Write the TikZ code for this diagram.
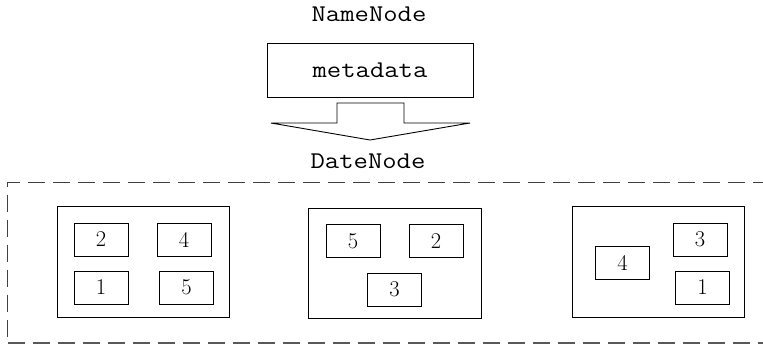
\documentclass[tikz,border=0pt]{standalone}
\usepackage{graphicx}
\begin{document}
\begin{tikzpicture}[x=1pt,y=-1pt,
  monotext/.style={inner sep=0pt, font=\ttfamily\fontsize{24}{28}\selectfont},
  bigbox/.style={draw, line width=0.9pt, inner sep=0pt},
  blockbox/.style={draw, line width=0.9pt, inner sep=0pt, minimum width=54pt, minimum height=33pt, font=\fontsize{22.5}{26}\selectfont},
  dashline/.style={draw=black!75, line width=1.3pt, dash pattern=on 17pt off 8pt}
]
\useasboundingbox (0,0) rectangle (763,354);
% NameNode
\node[monotext] (nn) at (369,14) {\scalebox{1.16}[1]{NameNode}};
\node[bigbox, minimum width=206pt, minimum height=54pt] (meta) at (370,70) {};
\node[monotext] (metatext) at (meta.center) {\scalebox{1.16}[1]{metadata}};
\node[monotext] (dn) at (368,161) {\scalebox{1.16}[1]{DateNode}};
% arrow
\coordinate (a1) at (337,103);
\coordinate (a2) at (404,103);
\coordinate (a3) at (404,123);
\coordinate (a4) at (470,123);
\coordinate (a5) at (370,140);
\coordinate (a6) at (271,123);
\coordinate (a7) at (337,123);
\draw[line width=0.9pt, line join=miter] (a1) -- (a2) -- (a3) -- (a4) -- (a5) -- (a6) -- (a7) -- cycle;
% dashed container (open on the right)
\coordinate (dtr) at (770,182);
\coordinate (dtl) at (7.5,182);
\coordinate (dbl) at (7.5,343);
\coordinate (dbr) at (770,343);
\draw[dashline, line width=1pt] (dtr) -- (dtl) -- (dbl);
\draw[dashline, line width=1.8pt, draw=black!65] (dbl) -- (dbr);
% box A
\node[bigbox, minimum width=172pt, minimum height=111pt] (A) at (143,261.5) {};
\node[blockbox] (A2) at (101,239.5) {2};
\node[blockbox] (A4) at (184,239.5) {4};
\node[blockbox] (A1) at (101,287.5) {1};
\node[blockbox] (A5) at (186.5,287.5) {5};
% box B
\node[bigbox, minimum width=173pt, minimum height=110pt] (B) at (394.5,263) {};
\node[blockbox] (B5) at (353,241) {5};
\node[blockbox] (B2) at (436,241) {2};
\node[blockbox] (B3) at (394.5,289.5) {3};
% box C
\node[bigbox, minimum width=172pt, minimum height=111pt] (C) at (658,261.5) {};
\node[blockbox] (C4) at (622.5,263) {4};
\node[blockbox] (C3) at (700,239.5) {3};
\node[blockbox] (C1) at (702.5,287.5) {1};
\end{tikzpicture}
\end{document}
